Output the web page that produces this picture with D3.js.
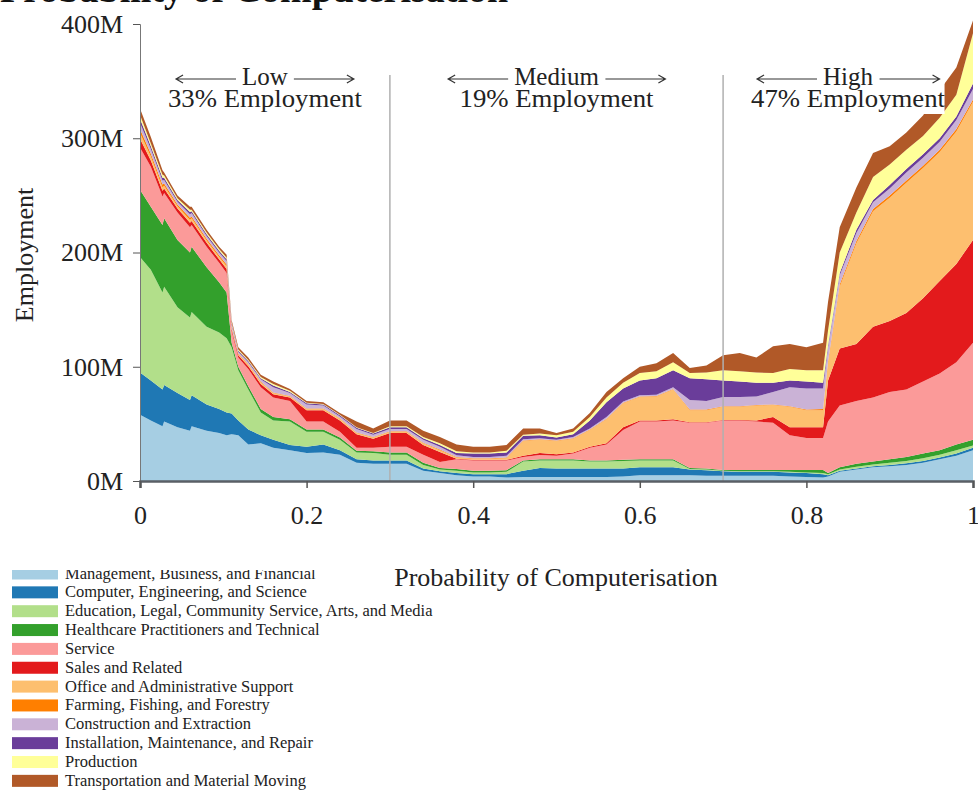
<!DOCTYPE html>
<html>
<head>
<meta charset="utf-8">
<script src="https://cdn.jsdelivr.net/npm/d3@7"></script>
<style>
  body { margin: 0; background: #fff; }
  svg { display: block; }
</style>
</head>
<body>
<svg id="chart" width="978" height="790"></svg>
<script>
// probability of computerisation at each sample
var probability = [0, 0.013, 0.027, 0.029, 0.045, 0.06, 0.062, 0.08, 0.095, 0.104,
  0.11, 0.118, 0.13, 0.145, 0.16, 0.18, 0.2, 0.22, 0.24, 0.26, 0.28, 0.3,
  0.32, 0.34, 0.36, 0.38, 0.4, 0.42, 0.44, 0.46, 0.48, 0.5,
  0.52, 0.54, 0.56, 0.58, 0.6, 0.62, 0.64, 0.66, 0.68, 0.7,
  0.72, 0.74, 0.76, 0.78, 0.8, 0.82,
  0.826, 0.84, 0.86, 0.88, 0.9, 0.92, 0.94, 0.96, 0.98, 1];

// employment (millions) by occupation group, same order as probability
var management = [58,53,48,52,47,44,48,44,42,40, 41,40,32,33,29,27,24.5,25,23,16,15,15, 15,9,7,5,4,4,3,3.5,3.5,3.5, 3.5,3.5,3.5,4,5,5,5,5,4.5,4.5, 4.5,4.5,4.5,4,3.5,3, 4,8,10,12,13,14,16,19,22,27];
var computer = [37,35,32,32,30,27,27,23,21,20, 18,13,13,7,7,4.5,5.5,7,4,3,3,3, 3,2,1.5,2,2,2,3,5.5,7.9,7.5, 7.5,7.5,7.5,7,7,7,7,5,5,4, 3.5,3.5,3.5,3.5,3.5,3, 1,1,1,1,1,1.5,1.5,1.5,2,2];
var education = [101,97,85,86,75,72,73,68,67,65, 58,44,35,20,17,20.5,13,11,9,6,6.5,5, 5,3,1.5,2,1.5,1.5,2,8,6.6,7, 7,6,6,6.5,6,6,6,0.5,0.5,0.5, 0.5,0.5,0.5,0.5,0.5,1, 1,1,1.5,1.5,2,2,2.5,2.5,3,2];
var healthcare = [59,55,59,60,59,57,57,52,44,40, 4,3,3,3,3,2,2,2,2,1.5,1.5,2, 2,2,1.4,1.5,1.5,1.5,1.5,1,1,1, 1,1,1,1,1,1,1,0.9,1,0.6, 1.1,1.1,1.1,1.6,2.1,2.6, 1,2,2.5,2.5,3,3.5,4,4,5,5];
var service = [37,35,25,22,24,22,19,18,17,17, 10,8,15,19,17,16,7,7,5,2.5,3,5, 5,7,5.2,8.5,9,9,8.5,3,3.8,3, 5,11,14,26.1,33,33,34,39.6,40,43.4, 43.4,42.4,41.4,30.4,28,28, 45,54,55,56,59,59,63,67,72,85];
var sales = [7.5,5.5,5,4,3.5,4,3.5,3.5,3,3.5, 2,2,2.5,3,3,3,10,10,10,12,8,12, 12,8.5,8.8,0.5,0.5,0.5,0.5,1,1.7,1.5, 1,1,1,2.4,1,1,1,0.5,0.5,0.5, 0.5,1,5,7,9.4,9.4, 36,50,50,62,62,67,73,81,86,90];
var office = [5,3.5,3,2.5,2,2.5,2.5,2,2,2.5, 1.5,1,1.5,1.5,1,1,1,1,1.5,1,1,1, 1,1.5,1.6,1,1,1,1.5,13,11.5,11.5, 12,14.6,21,21,20.5,21,26,10.5,10.5,11.5, 11.5,13,10.5,18,15,15, 16,54,88,101,108,114,114,113,116,121];
var farming = [3.5,2.5,2.5,2,1.5,2,1.5,1.5,1.5,1.5, 0.5,0.5,0.5,0.5,0.5,0.5,0.5,0.5,0.5,0.5,0.5,0.5, 0.5,0.5,0.5,0.5,0.5,0.5,0.5,0.5,0.5,0.5, 0.5,0.4,0.5,0.5,0.5,0.5,0.5,0.5,0.5,0.5, 0.5,0.5,0.5,0.5,0.5,1, 1,2,2,2,2,2,2,2,2,2];
var construction = [5.5,4,3.5,3,2.5,3,3,2.5,2.5,3, 2,1.5,1.5,2,4.5,2.5,3.5,2.5,1.5,3,2,2, 2,2.5,2.5,1.5,1,1,1.5,1,1,0.5, 1,1,1.5,1,1,1,1.5,8.5,7.5,8, 8,7.5,11,16.5,18.5,18, 12,8,7,6,6,7,7,7,8,9];
var installation = [3.5,2.5,2.5,2,1.5,2,1.5,1.5,1.5,1.5, 1,1,1,1,1.5,1,1,1,1,1,1,1.5, 1.5,1.5,1.5,2,3,3,3,3,2.5,2, 2.5,7,13,11.5,13,14.5,15,19,19,14.5, 13.5,12,8,6,6,5, 2,2,3,2,3,3,3,3,3,5];
var production = [3.5,2.5,2.5,2,1.5,2,1.5,1.5,1.5,1.5, 1,1,1,1,1.5,1,0.5,0.5,0.5,0.5,0.5,1, 1,1,1.5,1.5,1,1,1.5,1,1.5,2, 2,3,4,5,6.5,6,7,4.5,6,9, 9,9,8.5,10,10,11, 13,18,15,20,18,17,16,18,19,44];
var transportation = [5.5,5.5,4,2.5,2.5,2.5,2.5,2.5,2,2.5, 2,2,2,2,2,1.5,1.5,1.5,1.5,5,4,5, 5,5.5,5.5,6,5,5,5,5.5,4.5,2, 3,3.5,5,4,5.5,7,8,4.5,6,13, 16,13,23.5,22,20,24, 25,22,22,21,16,15,18,24,24,11];

var groups = ["Management, Business, and Financial", "Computer, Engineering, and Science",
  "Education, Legal, Community Service, Arts, and Media", "Healthcare Practitioners and Technical",
  "Service", "Sales and Related", "Office and Administrative Support", "Farming, Fishing, and Forestry",
  "Construction and Extraction", "Installation, Maintenance, and Repair", "Production",
  "Transportation and Material Moving"];
var colors = ["#a6cee3", "#1f78b4", "#b2df8a", "#33a02c", "#fb9a99", "#e31a1c",
  "#fdbf6f", "#ff7f00", "#cab2d6", "#6a3d9a", "#ffff99", "#b15928"];
var yTicks = [0, 100, 200, 300, 400];
var xTicks = [0, 0.2, 0.4, 0.6, 0.8, 1];
var regions = [
  {name: "Low", share: "33% Employment", from: 0, to: 0.3},
  {name: "Medium", share: "19% Employment", from: 0.3, to: 0.7},
  {name: "High", share: "47% Employment", from: 0.7, to: 1}
];

var series = [management, computer, education, healthcare, service, sales, office,
  farming, construction, installation, production, transportation];
var serif = "'Liberation Serif', 'Times New Roman', serif";

var rows = probability.map(function(p, i) {
  var r = {p: p};
  groups.forEach(function(g, j) { r[g] = series[j][i]; });
  return r;
});

var layers = d3.stack().keys(groups)(rows);

var x = d3.scaleLinear().domain([0, 1]).range([140, 973]);
var y = d3.scaleLinear().domain([0, 400]).range([481, 24]);

var svg = d3.select("#chart");

// title, mostly cut off by the top edge
svg.append("text")
    .attr("x", 0)
    .attr("y", 2)
    .attr("font-family", serif)
    .attr("font-size", 38)
    .attr("font-weight", "bold")
    .attr("fill", "#111")
    .text("Probability of Computerisation");

var area = d3.area()
    .x(function(d) { return x(d.data.p); })
    .y0(function(d) { return y(d[0]); })
    .y1(function(d) { return y(d[1]); });

svg.append("g")
  .selectAll("path")
  .data(layers)
  .join("path")
    .attr("fill", function(d, i) { return colors[i]; })
    .attr("d", area);

// dividers between the low / medium / high bands
svg.append("g")
  .selectAll("line")
  .data([0.3, 0.7])
  .join("line")
    .attr("x1", function(d) { return x(d); })
    .attr("x2", function(d) { return x(d); })
    .attr("y1", 75)
    .attr("y2", y(0))
    .attr("stroke", "#b0b0b0")
    .attr("stroke-width", 1.5);

// region labels with arrows
var lab = svg.append("g").attr("font-family", serif).attr("fill", "#222");
regions.forEach(function(r) {
  var cx = x((r.from + r.to) / 2);
  var g = lab.append("g");
  var box = g.append("rect").attr("fill", "#fff");
  var t1 = g.append("text")
      .attr("x", cx).attr("y", 85)
      .attr("text-anchor", "middle")
      .attr("font-size", 25)
      .text(r.name);
  g.append("text")
      .attr("x", cx).attr("y", 107)
      .attr("text-anchor", "middle")
      .attr("font-size", 25)
      .attr("textLength", 194)
      .attr("lengthAdjust", "spacingAndGlyphs")
      .text(r.share);
  var bb = t1.node().getBBox();
  var a0 = bb.x - 66, a1 = bb.x - 6, b0 = bb.x + bb.width + 6, b1 = b0 + 60;
  var ay = 79;
  g.append("path")
      .attr("fill", "none")
      .attr("stroke", "#333")
      .attr("stroke-width", 1.2)
      .attr("d", "M" + a1 + "," + ay + "H" + a0 + "M" + (a0 + 7) + "," + (ay - 4) + "L" + a0 + "," + ay + "L" + (a0 + 7) + "," + (ay + 4)
        + "M" + b0 + "," + ay + "H" + b1 + "M" + (b1 - 7) + "," + (ay - 4) + "L" + b1 + "," + ay + "L" + (b1 - 7) + "," + (ay + 4));
  box.attr("x", a0 - 5).attr("y", 62).attr("width", b1 - a0 + 10).attr("height", 52);
});

// axes
var yAxis = d3.axisLeft(y)
    .tickValues(yTicks)
    .tickFormat(function(d) { return d + "M"; })
    .tickSize(7)
    .tickPadding(10);

svg.append("g")
    .attr("transform", "translate(" + x(0) + ",0)")
    .call(yAxis)
    .attr("font-family", serif)
    .attr("font-size", 26)
    .call(function(g) { g.select(".domain").attr("stroke", "#777"); })
    .call(function(g) { g.selectAll(".tick line").attr("stroke", "#555"); })
    .call(function(g) { g.selectAll(".tick text").attr("fill", "#222"); });

var xAxis = d3.axisBottom(x)
    .tickValues(xTicks)
    .tickFormat(function(d) { return d === 0 || d === 1 ? String(d) : d3.format(".1f")(d); })
    .tickSize(7)
    .tickPadding(18);

svg.append("g")
    .attr("transform", "translate(0," + y(0) + ")")
    .call(xAxis)
    .attr("font-family", serif)
    .attr("font-size", 26)
    .call(function(g) { g.select(".domain").attr("stroke", "#5a5f66").attr("stroke-width", 2.5); })
    .call(function(g) { g.selectAll(".tick line").attr("stroke", "#555").attr("stroke-width", 1.5); })
    .call(function(g) { g.selectAll(".tick text").attr("fill", "#222"); });

svg.append("text")
    .attr("transform", "translate(33,255) rotate(-90)")
    .attr("text-anchor", "middle")
    .attr("font-family", serif)
    .attr("font-size", 26)
    .attr("fill", "#222")
    .text("Employment");

svg.append("text")
    .attr("x", 556)
    .attr("y", 586)
    .attr("text-anchor", "middle")
    .attr("font-family", serif)
    .attr("font-size", 26)
    .attr("fill", "#222")
    .text("Probability of Computerisation");

// legend, top row clipped like the source
svg.append("clipPath").attr("id", "legclip")
  .append("rect").attr("x", 0).attr("y", 570).attr("width", 978).attr("height", 220);

var legend = svg.append("g")
    .attr("clip-path", "url(#legclip)")
    .attr("font-family", serif)
    .attr("font-size", 16.5)
  .selectAll("g")
  .data(groups)
  .join("g")
    .attr("transform", function(d, i) { return "translate(0," + (573.5 + i * 18.85) + ")"; });

legend.append("rect")
    .attr("x", 12).attr("y", -6)
    .attr("width", 46).attr("height", 12)
    .attr("fill", function(d, i) { return colors[i]; });

legend.append("text")
    .attr("x", 65).attr("y", 5)
    .attr("fill", "#222")
    .text(function(d) { return d; });
</script>
</body>
</html>
